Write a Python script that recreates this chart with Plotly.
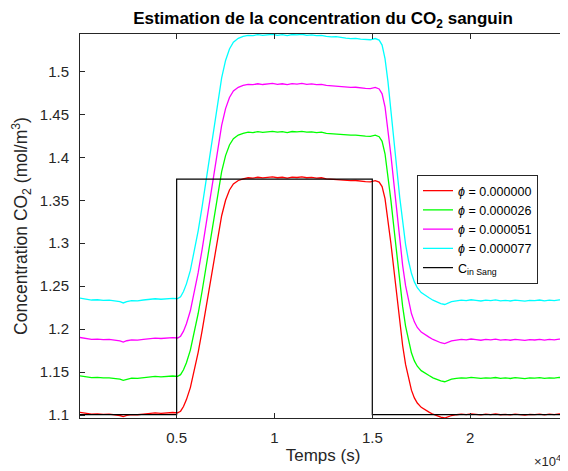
"""Estimation de la concentration du CO2 sanguin : style figure MATLAB."""

import plotly.graph_objects as go

# temps (s)
temps = [60, 350, 650, 950, 1250, 1550, 1850, 2100, 2270, 2450, 2700, 3000, 3300, 3600, 3900, 4200, 4500, 4800, 5050,
         5200, 5350, 5500, 5700, 5900, 6100, 6300, 6500, 6700, 6900, 7100, 7300, 7500, 7700, 7900, 8150, 8400, 8650,
         8900, 9150, 9400, 9650, 9900, 10150, 10400, 10650, 10900, 11150, 11400, 11650, 11900, 12150, 12400, 12650,
         12900, 13150, 13400, 13650, 13900, 14150, 14400, 14650, 14900, 15150, 15350,
         15500, 15650, 15800, 15950, 16100, 16250, 16400, 16550, 16700, 16850, 17000, 17150, 17300, 17500, 17700,
         17900, 18100, 18300, 18500, 18700, 18850,
         19050, 19300, 19550, 19800, 20050, 20300, 20550, 20800, 21050, 21300, 21550, 21800, 22050, 22300, 22550,
         22800, 23050, 23300, 23550, 23800, 24050, 24300, 24550, 24900]

phi_0 = [1.1032, 1.1020, 1.1012, 1.1015, 1.1008, 1.1010, 1.1003, 1.0995, 1.0982, 1.0996, 1.1006, 1.1004, 1.1012, 1.1018, 1.1025, 1.1020, 1.1028, 1.1030, 1.1026,
         1.1045, 1.1100, 1.1180, 1.1320, 1.1510, 1.1730, 1.1980, 1.2250, 1.2530, 1.2810, 1.3080, 1.3320, 1.3500, 1.3620, 1.3690, 1.3730, 1.3750, 1.3762,
         1.3758, 1.3768, 1.3760, 1.3765, 1.3772, 1.3762, 1.3768, 1.3758, 1.3770, 1.3765, 1.3772, 1.3762, 1.3766, 1.3758, 1.3762, 1.3750, 1.3745, 1.3748, 1.3738, 1.3732, 1.3728, 1.3730, 1.3722, 1.3718, 1.3715, 1.3728, 1.3712,
         1.3660, 1.3520, 1.3280, 1.3000, 1.2700, 1.2380, 1.2080, 1.1810, 1.1590, 1.1420, 1.1290, 1.1200, 1.1140, 1.1090, 1.1058, 1.1035, 1.1010, 1.0990, 1.0975, 1.0966, 1.0978,
         1.0995, 1.1004, 1.1010, 1.1006, 1.1015, 1.1008, 1.1002, 1.1010, 1.1006, 1.1013, 1.1004, 1.1009, 1.1002, 1.1011, 1.1007, 1.1000, 1.1009, 1.1005, 1.1012, 1.1003, 1.1010, 1.1006, 1.1014, 1.1010]

phi_26 = [1.1457, 1.1444, 1.1436, 1.1439, 1.1432, 1.1434, 1.1427, 1.1418, 1.1405, 1.1419, 1.1430, 1.1428, 1.1436, 1.1442, 1.1450, 1.1444, 1.1453, 1.1455, 1.1451,
          1.1470, 1.1527, 1.1610, 1.1756, 1.1953, 1.2182, 1.2441, 1.2722, 1.3012, 1.3303, 1.3584, 1.3833, 1.4020, 1.4144, 1.4217, 1.4259, 1.4279, 1.4292,
          1.4288, 1.4298, 1.4290, 1.4295, 1.4302, 1.4292, 1.4298, 1.4288, 1.4300, 1.4295, 1.4302, 1.4292, 1.4296, 1.4288, 1.4292, 1.4279, 1.4274, 1.4277, 1.4267, 1.4261, 1.4257, 1.4259, 1.4250, 1.4246, 1.4243, 1.4257, 1.4240,
          1.4186, 1.4041, 1.3791, 1.3501, 1.3189, 1.2857, 1.2545, 1.2265, 1.2036, 1.1860, 1.1725, 1.1631, 1.1569, 1.1517, 1.1484, 1.1460, 1.1434, 1.1413, 1.1398, 1.1388, 1.1401,
          1.1418, 1.1428, 1.1434, 1.1430, 1.1439, 1.1432, 1.1426, 1.1434, 1.1430, 1.1437, 1.1428, 1.1433, 1.1426, 1.1435, 1.1431, 1.1424, 1.1433, 1.1429, 1.1436, 1.1427, 1.1434, 1.1430, 1.1438, 1.1434]

phi_51 = [1.1903, 1.1891, 1.1882, 1.1885, 1.1878, 1.1880, 1.1872, 1.1864, 1.1850, 1.1865, 1.1875, 1.1873, 1.1882, 1.1888, 1.1896, 1.1891, 1.1899, 1.1901, 1.1897,
          1.1918, 1.1977, 1.2063, 1.2214, 1.2419, 1.2657, 1.2926, 1.3218, 1.3520, 1.3822, 1.4113, 1.4372, 1.4567, 1.4696, 1.4772, 1.4815, 1.4836, 1.4849,
          1.4845, 1.4856, 1.4847, 1.4852, 1.4860, 1.4849, 1.4856, 1.4845, 1.4858, 1.4852, 1.4860, 1.4849, 1.4854, 1.4845, 1.4849, 1.4836, 1.4831, 1.4834, 1.4823, 1.4817, 1.4813, 1.4815, 1.4806, 1.4802, 1.4799, 1.4813, 1.4795,
          1.4739, 1.4588, 1.4329, 1.4027, 1.3703, 1.3358, 1.3034, 1.2743, 1.2506, 1.2322, 1.2182, 1.2085, 1.2020, 1.1966, 1.1932, 1.1907, 1.1880, 1.1858, 1.1842, 1.1832, 1.1845,
          1.1864, 1.1873, 1.1880, 1.1875, 1.1885, 1.1878, 1.1871, 1.1880, 1.1875, 1.1883, 1.1873, 1.1879, 1.1871, 1.1881, 1.1877, 1.1869, 1.1879, 1.1874, 1.1882, 1.1872, 1.1880, 1.1875, 1.1884, 1.1880]

phi_77 = [1.2361, 1.2348, 1.2339, 1.2342, 1.2335, 1.2337, 1.2329, 1.2320, 1.2305, 1.2321, 1.2332, 1.2330, 1.2339, 1.2346, 1.2354, 1.2348, 1.2357, 1.2359, 1.2355,
          1.2376, 1.2438, 1.2527, 1.2684, 1.2897, 1.3144, 1.3424, 1.3726, 1.4040, 1.4354, 1.4656, 1.4925, 1.5127, 1.5261, 1.5340, 1.5385, 1.5407, 1.5420,
          1.5416, 1.5427, 1.5418, 1.5424, 1.5432, 1.5420, 1.5427, 1.5416, 1.5429, 1.5424, 1.5432, 1.5420, 1.5425, 1.5416, 1.5420, 1.5407, 1.5401, 1.5405, 1.5393, 1.5387, 1.5382, 1.5385, 1.5376, 1.5371, 1.5368, 1.5382, 1.5364,
          1.5306, 1.5149, 1.4880, 1.4567, 1.4230, 1.3872, 1.3536, 1.3233, 1.2987, 1.2796, 1.2650, 1.2550, 1.2482, 1.2426, 1.2391, 1.2365, 1.2337, 1.2314, 1.2298, 1.2287, 1.2301,
          1.2320, 1.2330, 1.2337, 1.2332, 1.2342, 1.2335, 1.2328, 1.2337, 1.2332, 1.2340, 1.2330, 1.2336, 1.2328, 1.2338, 1.2333, 1.2326, 1.2336, 1.2331, 1.2339, 1.2329, 1.2337, 1.2332, 1.2341, 1.2337]

# consigne C_in Sang (créneau)
cin_t = [60, 5000, 5000, 15000, 15000, 24900]
cin_val = [1.1006, 1.1006, 1.3746, 1.3746, 1.1006, 1.1006]

phi_labels = ["0.000000", "0.000026", "0.000051", "0.000077"]
phi_colors = ["#FF0000", "#00FF00", "#FF00FF", "#00FFFF"]
x_ticks = [5000, 10000, 15000, 20000]
x_ticktext = ["0.5", "1", "1.5", "2"]

AX = "#262626"
FONT = "Liberation Sans, Arial, sans-serif"

fig = go.Figure()
for serie, lab, col in zip([phi_0, phi_26, phi_51, phi_77], phi_labels, phi_colors):
    fig.add_trace(go.Scatter(x=temps, y=serie, mode="lines", name=f"<i>ϕ</i> = {lab}",
                             line=dict(color=col, width=1.3)))
fig.add_trace(go.Scatter(x=cin_t, y=cin_val, mode="lines", name="C<sub>in Sang</sub>",
                         line=dict(color="#000000", width=1.2)))

axis_common = dict(showline=True, linecolor=AX, linewidth=1, mirror="ticks", ticks="inside",
                   ticklen=5, tickcolor=AX, showgrid=False, zeroline=False,
                   tickfont=dict(size=15, color=AX))

# la page ajoute 8 px de marge au body : figure 560x463
fig.update_layout(
    width=560, height=463,
    paper_bgcolor="white", plot_bgcolor="white",
    font=dict(family=FONT, color=AX),
    margin=dict(l=72, r=2, t=26, b=53),
    title=dict(text="<b>Estimation de la concentration du CO<sub>2</sub> sanguin</b>",
               x=0.5625, xanchor="center", y=0.978, yanchor="middle",
               font=dict(size=17, color="#000000")),
    xaxis=dict(range=[60, 24900], tickvals=x_ticks, ticktext=x_ticktext, ticklabelstandoff=6,
               title=dict(text="Temps (s)", font=dict(size=17, color=AX), standoff=4),
               **axis_common),
    yaxis=dict(range=[1.0966, 1.5435], dtick=0.05, tick0=1.1, ticklabelstandoff=7,
               title=dict(text="Concentration CO<sub>2</sub> (mol/m<sup>3</sup>)",
                          font=dict(size=17.5, color=AX), standoff=7),
               **axis_common),
    legend=dict(x=0.6934, y=0.6328, xanchor="left", yanchor="top",
                bgcolor="white", bordercolor=AX, borderwidth=1,
                font=dict(size=12.5, color="#000000"), tracegroupgap=0),
    showlegend=True,
)

# facteur d'échelle de l'axe x
fig.add_annotation(text="×10<sup>4</sup>", xref="paper", yref="paper", x=1.0, y=-0.112,
                   xanchor="right", yanchor="middle", xshift=-3, showarrow=False,
                   font=dict(size=13, color=AX))

fig.write_html("out.html")
